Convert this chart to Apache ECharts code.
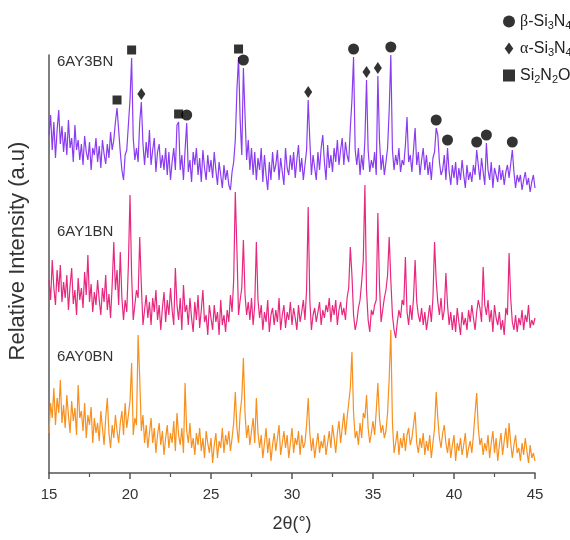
<!DOCTYPE html>
<html>
<head>
<meta charset="utf-8">
<script src="https://cdn.jsdelivr.net/npm/echarts@6/dist/echarts.min.js"></script>
<style>
html, body { margin: 0; padding: 0; background: #fff; }
#main { width: 570px; height: 540px; }
</style>
</head>
<body>
<div id="main"></div>
<script>
// 2theta starts at 15 deg, one value every 0.1 deg up to 45 deg
var START = 15;
var STEP = 0.1;

// 6AY0BN (orange, bottom)
var y0bn = [
	40, 70, 55, 85, 48, 75, 60, 93, 50, 68,
	45, 78, 58, 40, 72, 52, 65, 38, 88, 55,
	62, 42, 70, 35, 58, 48, 66, 30, 55, 40,
	50, 32, 62, 45, 28, 55, 75, 40, 25, 48,
	35, 58, 42, 30, 50, 62, 38, 70, 45, 58,
	72, 110, 38, 55, 48, 138, 95, 42, 58, 30,
	48, 25, 40, 55, 30, 45, 20, 38, 50, 28,
	42, 18, 35, 48, 25, 40, 30, 52, 22, 60,
	38, 28, 45, 20, 90, 42, 30, 50, 25, 35,
	18, 40, 28, 45, 22, 35, 15, 42, 30, 20,
	35, 10, 28, 40, 15, 32, 25, 45, 20, 38,
	28, 42, 22, 35, 50, 81, 45, 30, 60, 75,
	115, 60, 35, 48, 28, 42, 55, 30, 75, 40,
	25, 38, 15, 30, 45, 20, 35, 12, 28, 40,
	22, 35, 48, 18, 30, 42, 25, 38, 15, 30,
	45, 20, 35, 28, 42, 18, 38, 25, 30, 48,
	75, 40, 22, 35, 15, 28, 40, 20, 32, 25,
	38, 18, 30, 42, 25, 48, 35, 20, 40, 52,
	30, 45, 60, 38, 55, 70, 85, 121, 60, 35,
	42, 28, 50, 35, 60, 55, 78, 45, 30, 40,
	52, 38, 62, 90, 55, 40, 48, 35, 42, 60,
	95, 143, 50, 20, 30, 42, 18, 35, 25, 40,
	22, 38, 45, 28, 35, 48, 61, 30, 20, 35,
	25, 40, 18, 32, 22, 38, 15, 30, 45, 81,
	55, 35, 25, 40, 48, 30, 20, 35, 15, 28,
	38, 12, 30, 22, 35, 18, 28, 40, 15, 25,
	32, 20, 38, 60, 80, 45, 28, 35, 18, 30,
	22, 38, 15, 30, 42, 20, 35, 12, 28, 40,
	18, 32, 45, 25, 50, 30, 15, 28, 38, 20,
	25, 12, 30, 18, 35, 22, 10, 28, 15, 20,
	12
];

// 6AY1BN (pink, middle)
var y1bn = [
	80, 60, 100, 72, 55, 90, 68, 95, 58, 78,
	62, 85, 50, 74, 92, 56, 70, 45, 82, 60,
	72, 52, 88, 65, 105, 58, 76, 48, 68, 55,
	80, 60, 45, 72, 58, 85, 50, 66, 42, 75,
	118, 70, 90, 55, 108, 62, 40, 60, 48, 95,
	165, 85, 40, 55, 70, 62, 123, 75, 35, 50,
	65, 42, 58, 35, 62, 48, 70, 40, 55, 30,
	52, 68, 38, 60, 45, 72, 50, 35, 92, 55,
	40, 62, 30, 75, 48, 55, 35, 62, 42, 28,
	58, 40, 65, 32, 50, 70, 38, 45, 25, 55,
	42, 30, 55, 38, 48, 25, 60, 35, 45, 28,
	50, 38, 65, 48, 80, 168, 110, 45, 60, 72,
	120, 65, 45, 58, 40, 62, 35, 55, 118, 60,
	42, 55, 30, 48, 38, 60, 28, 45, 52, 35,
	50, 38, 62, 30, 45, 55, 32, 48, 40, 58,
	35, 52, 42, 30, 55, 38, 48, 60, 40, 70,
	153, 60, 30, 45, 52, 38, 48, 58, 35, 50,
	42, 55, 48, 62, 38, 55, 45, 60, 35, 50,
	58, 45, 52, 40, 62, 72, 113, 85, 45, 30,
	38, 52, 60, 78, 100, 175, 70, 40, 28, 50,
	45, 55, 60, 147, 75, 38, 50, 62, 70, 85,
	123, 80, 45, 30, 22, 38, 50, 42, 60, 55,
	103, 48, 35, 55, 40, 62, 100, 58, 45, 38,
	52, 35, 48, 30, 42, 55, 38, 62, 118, 80,
	58, 45, 62, 40, 50, 87, 55, 35, 48, 30,
	45, 28, 52, 38, 25, 48, 35, 42, 30, 50,
	38, 55, 42, 30, 48, 60, 52, 38, 93, 55,
	45, 60, 38, 50, 28, 55, 42, 35, 48, 30,
	40, 25, 52, 45, 107, 62, 38, 30, 45, 28,
	42, 35, 50, 30, 45, 38, 55, 32, 40, 35,
	42
];

// 6AY3BN (purple, top)
var y3bn = [
	75, 95, 60, 88, 52, 80, 100, 66, 84, 58,
	78, 55, 90, 62, 72, 48, 85, 60, 70, 50,
	66, 45, 74, 58, 50, 68, 40, 62, 55, 72,
	48, 64, 42, 70, 56, 46, 66, 52, 78, 60,
	70, 88, 102, 80, 58, 40, 30, 55, 60, 85,
	110, 152, 72, 50, 62, 48, 88, 108, 66, 45,
	68, 52, 80, 45, 60, 72, 38, 58, 66, 42,
	55, 40, 62, 35, 58, 30, 48, 62, 40, 85,
	88, 40, 55, 30, 60, 87, 38, 50, 28, 58,
	45, 62, 35, 52, 28, 60, 42, 30, 55, 38,
	50, 32, 58, 40, 25, 48, 35, 22, 45, 30,
	40, 25, 20, 38, 48, 70, 120, 153, 90, 55,
	142, 95, 50, 70, 40, 62, 35, 58, 30, 52,
	40, 62, 28, 55, 35, 20, 48, 30, 58, 38,
	45, 60, 30, 52, 38, 25, 62, 42, 35, 55,
	40, 58, 32, 50, 65, 38, 52, 30, 45, 60,
	110, 70, 35, 55, 42, 30, 58, 40, 62, 75,
	48, 30, 65, 42, 55, 38, 62, 48, 70, 45,
	60, 72, 45, 68, 55, 48, 82, 110, 153, 60,
	45, 62, 35, 55, 40, 70, 130, 60, 38, 50,
	42, 58, 35, 134, 70, 40, 55, 35, 48, 62,
	100, 155, 60, 40, 55, 45, 62, 38, 50, 45,
	65, 93, 48, 55, 38, 60, 82, 45, 58, 35,
	50, 62, 40, 55, 35, 48, 30, 52, 58, 82,
	75, 48, 35, 40, 55, 30, 62, 38, 25, 45,
	32, 48, 25, 42, 30, 50, 35, 22, 45, 30,
	38, 28, 45, 35, 60, 45, 30, 52, 38, 25,
	67, 40, 30, 48, 22, 42, 35, 28, 45, 30,
	40, 25, 38, 45, 32, 30, 60, 38, 22, 35,
	28, 35, 20, 30, 38, 25, 32, 18, 28, 35,
	22
];

var sampleNames = ['6AY0BN', '6AY1BN', '6AY3BN'];
var sampleColors = ['#f7901e', '#e8287f', '#8a3cf0'];
var stackShift = [0, 113, 263];

// peak positions marked on the 6AY3BN pattern
var betaPeaks = [23.5, 27.0, 33.8, 36.1, 38.9, 39.6, 41.4, 42.0, 43.6];
var alphaPeaks = [20.7, 31.0, 34.6, 35.3];
var si2n2oPeaks = [19.2, 20.1, 23.0, 26.7];

function toPairs(vals, shift) {
	var out = [];
	for (var i = 0; i < vals.length; i++) {
		out.push([+(START + i * STEP).toFixed(1), vals[i] + shift]);
	}
	return out;
}

function markAt(peaks, vals, shift) {
	var out = [];
	peaks.forEach(function(p) {
		var idx = Math.round((p - START) / STEP);
		var top = Math.max(vals[idx - 1] || 0, vals[idx], vals[idx + 1] || 0);
		out.push([p, top + shift + 8]);
	});
	return out;
}

var diamondPath = 'path://M5,0 L10,7 L5,14 L0,7 Z';

var series = [];
var traces = [y0bn, y1bn, y3bn];
for (var s = 0; s < traces.length; s++) {
	series.push({
		name: sampleNames[s],
		type: 'line',
		data: toPairs(traces[s], stackShift[s]),
		showSymbol: false,
		lineStyle: { color: sampleColors[s], width: 1.2 },
		silent: true,
		z: 2
	});
}
series.push({
	name: 'beta',
	type: 'scatter',
	data: markAt(betaPeaks, y3bn, stackShift[2]),
	symbol: 'circle',
	symbolSize: 11,
	itemStyle: { color: '#000' },
	clip: false,
	z: 5
});
series.push({
	name: 'alpha',
	type: 'scatter',
	data: markAt(alphaPeaks, y3bn, stackShift[2]),
	symbol: diamondPath,
	symbolSize: [8, 12],
	itemStyle: { color: '#000' },
	clip: false,
	z: 5
});
series.push({
	name: 'si2n2o',
	type: 'scatter',
	data: markAt(si2n2oPeaks, y3bn, stackShift[2]),
	symbol: 'rect',
	symbolSize: 9,
	itemStyle: { color: '#000' },
	clip: false,
	z: 5
});

var legendText = {
	beta: '{g|β}-Si{s|3}N{s|4}',
	alpha: '{g|α}-Si{s|3}N{s|4}',
	si2n2o: 'Si{s|2}N{s|2}O'
};

var FONT = 'Liberation Sans, Arial, sans-serif';

var chart = echarts.init(document.getElementById('main'), null, { renderer: 'canvas' });
var option = {
	animation: false,
	backgroundColor: '#fff',
	textStyle: { fontFamily: FONT },
	grid: { left: 49, right: 35, top: 55, bottom: 67, containLabel: false },
	legend: {
		data: [
			{ name: 'beta', icon: 'circle' },
			{ name: 'alpha', icon: diamondPath },
			{ name: 'si2n2o', icon: 'rect' }
		],
		orient: 'vertical',
		left: 498,
		top: 7,
		itemWidth: 12,
		itemHeight: 12,
		itemGap: 8,
		selectedMode: false,
		formatter: function(name) {
			return legendText[name];
		},
		textStyle: {
			fontSize: 16,
			color: '#222',
			fontFamily: FONT,
			lineHeight: 19,
			rich: {
				g: { fontSize: 16, fontFamily: 'Liberation Serif, Times New Roman, serif', color: '#222' },
				s: { fontSize: 11, verticalAlign: 'bottom', color: '#222', padding: [6, 0, 0, 0] }
			}
		}
	},
	xAxis: {
		type: 'value',
		min: 15,
		max: 45,
		interval: 5,
		name: '2θ(°)',
		nameLocation: 'middle',
		nameGap: 42,
		nameTextStyle: { fontSize: 18, color: '#333', fontFamily: FONT },
		axisLine: { show: true, onZero: false, lineStyle: { color: '#555', width: 1.5 } },
		axisTick: { show: true, inside: false, length: 6, lineStyle: { color: '#555', width: 1.5 } },
		minorTick: { show: true, splitNumber: 2, length: 4, lineStyle: { color: '#555', width: 1.2 } },
		axisLabel: { fontSize: 15, color: '#333', margin: 14 },
		splitLine: { show: false }
	},
	yAxis: {
		type: 'value',
		min: 0,
		max: 418,
		axisLine: { show: true, lineStyle: { color: '#555', width: 1.5 } },
		axisTick: { show: false },
		axisLabel: { show: false },
		splitLine: { show: false }
	},
	graphic: [
		{
			type: 'text',
			x: 18,
			y: 251,
			rotation: Math.PI / 2,
			style: {
				text: 'Relative Intensity (a.u)',
				font: '22px ' + FONT,
				fill: '#333',
				textAlign: 'center',
				textVerticalAlign: 'middle'
			}
		},
		{
			type: 'text',
			left: 57,
			top: 54,
			style: { text: sampleNames[2], font: '15px ' + FONT, fill: '#333' }
		},
		{
			type: 'text',
			left: 57,
			top: 224,
			style: { text: sampleNames[1], font: '15px ' + FONT, fill: '#333' }
		},
		{
			type: 'text',
			left: 57,
			top: 349,
			style: { text: sampleNames[0], font: '15px ' + FONT, fill: '#333' }
		}
	],
	series: series
};
chart.setOption(option);
</script>
</body>
</html>
